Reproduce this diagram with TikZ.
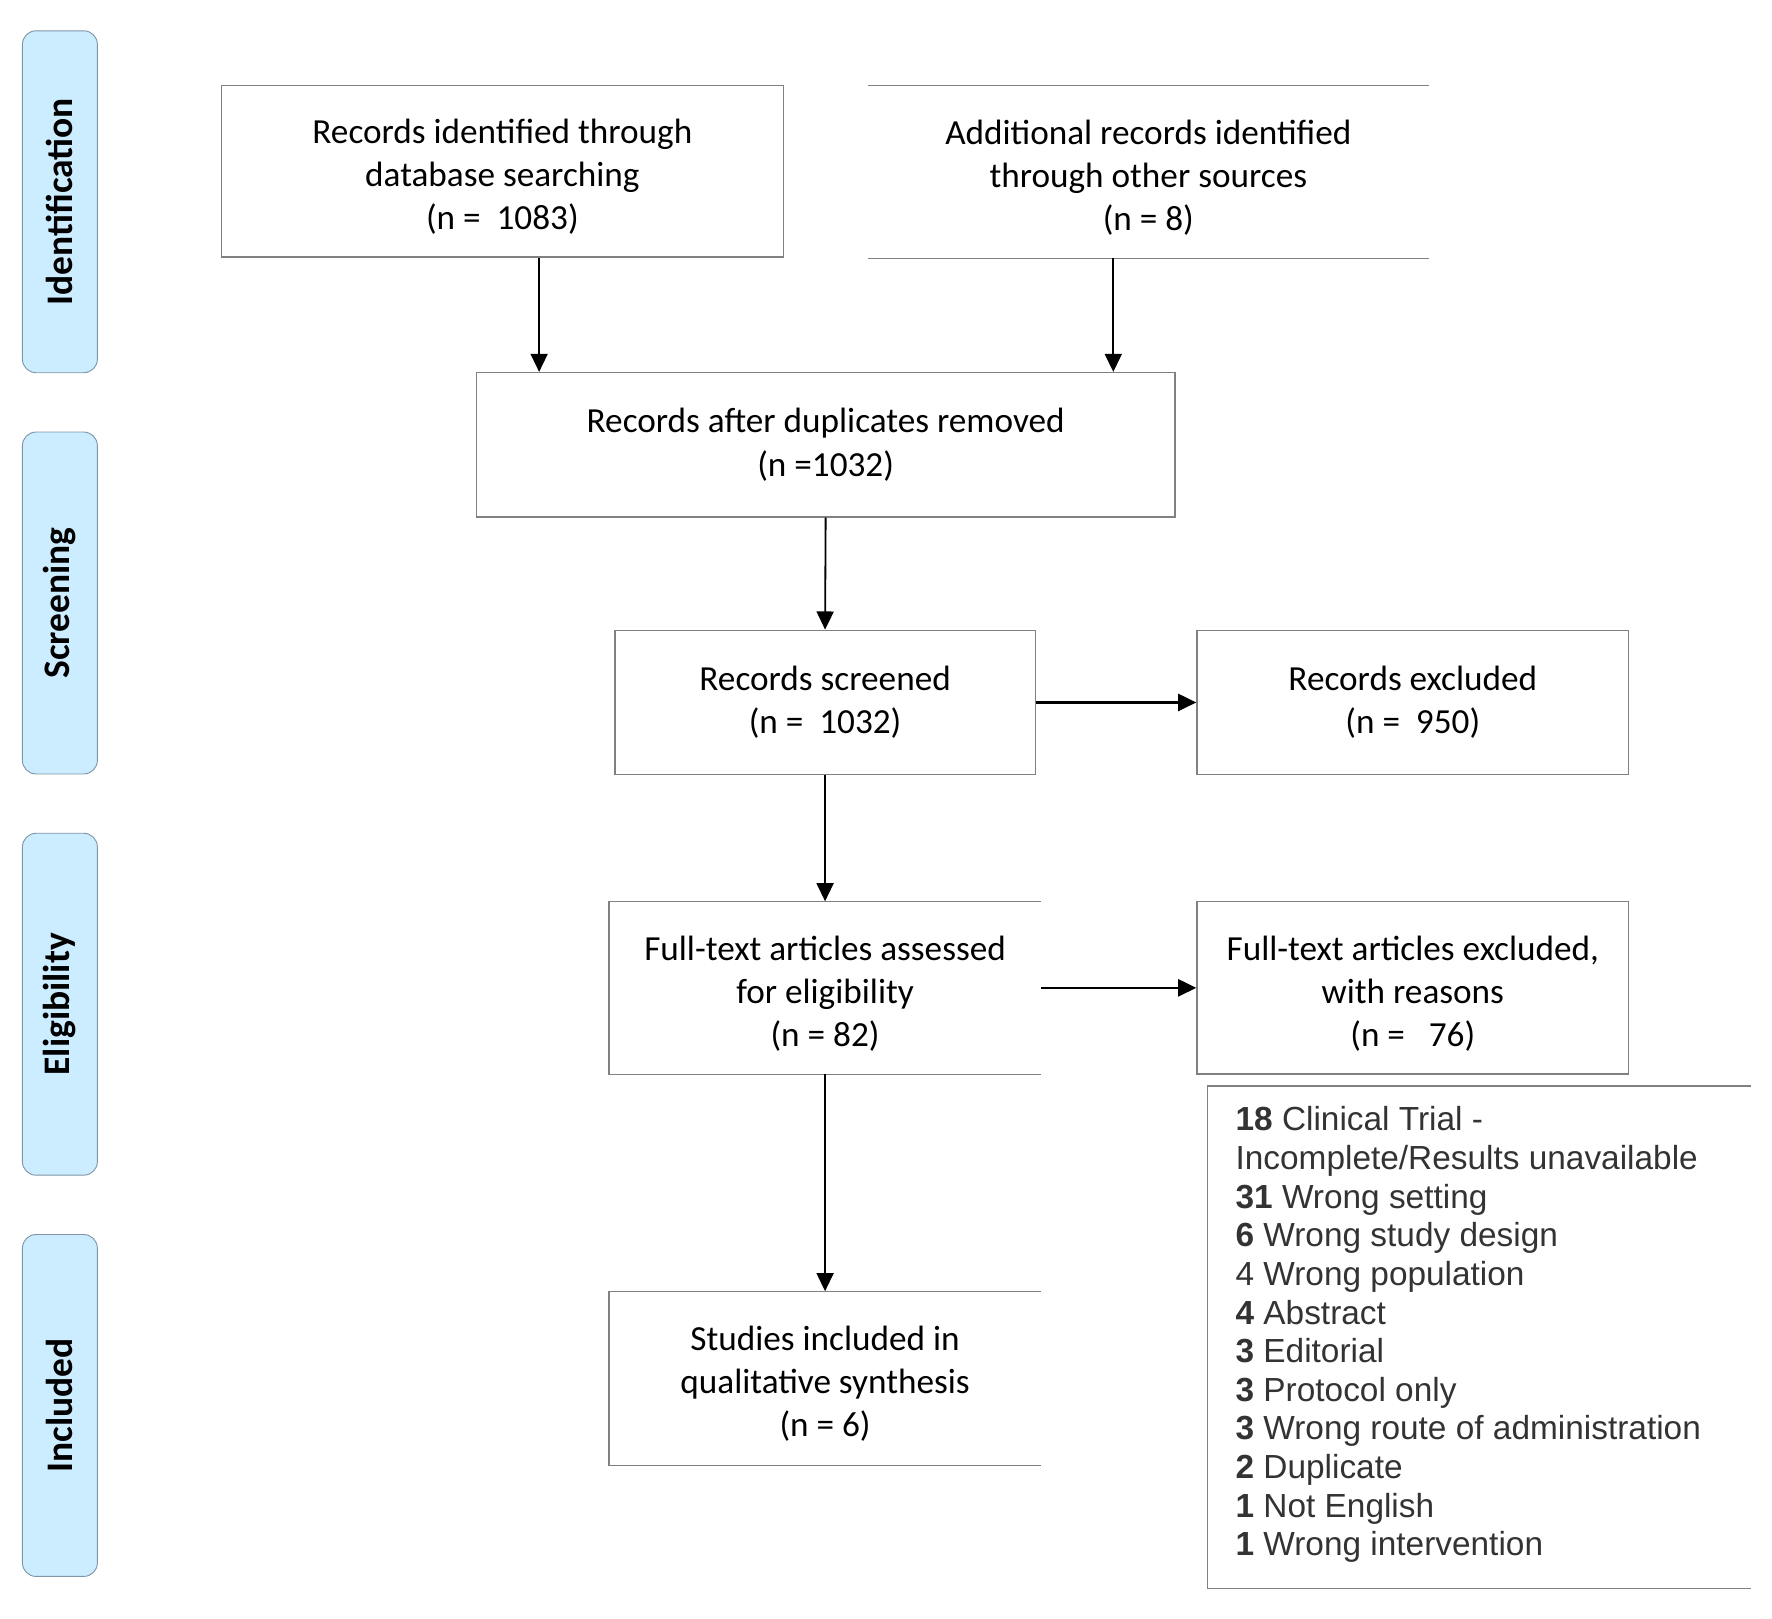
\documentclass[tikz,border=0pt]{standalone}
\usepackage{fontspec}
\setmainfont{Carlito}
\newfontfamily\arialf{Liberation Sans}
\usetikzlibrary{arrows.meta}
\definecolor{boxgray}{HTML}{808080}
\definecolor{pillfill}{HTML}{CCECFF}
\definecolor{pillline}{HTML}{7F95A8}
\definecolor{listtext}{HTML}{333333}
\begin{document}
\begin{tikzpicture}[x=0.995pt,y=-0.995pt,
  fullbox/.style={draw=boxgray, line width=1.2pt, align=center, inner sep=0pt,
    font=\fontsize{31}{38}\selectfont},
  openbox/.style={draw=none, align=center, inner sep=0pt,
    font=\fontsize{31}{38}\selectfont},
  boxtext/.style={align=center, inner sep=0pt, font=\fontsize{31}{38}\selectfont},
  edgeline/.style={draw=boxgray, line width=1.2pt},
  pill/.style={draw=pillline, line width=0.8pt, fill=pillfill, rounded corners=12pt,
    rotate=90, minimum width=301pt, minimum height=66pt, inner sep=0pt,
    font=\bfseries\fontsize{33}{38}\selectfont},
  arr/.style={-{Triangle[length=16pt,width=15pt]}, line width=1.6pt, black},
  harr/.style={-{Triangle[length=16pt,width=15pt]}, line width=2.2pt, black}
]
\useasboundingbox (0,0) rectangle (1567.8,1432.4);

% stage pills
\node[pill] (p1) at (53,178.5) {Identification};
\node[pill] (p2) at (53,533.5) {Screening};
\node[pill] (p3) at (53,888.5) {Eligibility};
\node[pill] (p4) at (53,1243.5) {Included};

% boxes
\node[fullbox, minimum width=495pt, minimum height=151pt] (b1) at (444.5,151.5) {};
\node[boxtext] (b1t) at ([yshift=-5pt]b1.center)
  {Records identified through\\database searching\\(n =\ \ 1083)};
\node[openbox, minimum width=494pt, minimum height=152pt] (b2) at (1016,152) {};
\node[boxtext] (b2t) at ([yshift=-5pt]b2.center)
  {Additional records identified\\through other sources\\(n = 8)};
\draw[edgeline] (b2.north west) -- (b2.north east);
\draw[edgeline] (b2.south west) -- (b2.south east);

\node[fullbox, minimum width=615pt, minimum height=127pt] (b3) at (730.5,393.5)
  {Records after duplicates removed\\(n =1032)};

\node[fullbox, minimum width=370pt, minimum height=127pt] (b4) at (730,621.5)
  {Records screened\\(n =\ \ 1032)};
\node[fullbox, minimum width=380pt, minimum height=127pt] (b5) at (1250,621.5)
  {Records excluded\\(n =\ \ 950)};

\node[openbox, minimum width=380pt, minimum height=152pt] (b6) at (730,874) {};
\node[boxtext] (b6t) at ([yshift=-5pt]b6.center)
  {Full-text articles assessed\\for eligibility\\(n = 82)};
\draw[edgeline] (b6.north east) -- (b6.north west) -- (b6.south west) -- (b6.south east);

\node[fullbox, minimum width=380pt, minimum height=152pt] (b7) at (1250,874) {};
\node[boxtext] (b7t) at ([yshift=-5pt]b7.center)
  {Full-text articles excluded,\\with reasons\\(n =\ \ \ 76)};

\node[openbox, minimum width=478pt, minimum height=442pt] (b8) at (1309,1183) {};
\draw[edgeline] (b8.north east) -- (b8.north west) -- (b8.south west) -- (b8.south east);
\node[anchor=north west, inner sep=0pt, align=left, text=listtext,
  font=\arialf\fontsize{29.4}{34}\selectfont] (reasons) at (1093,979)
  {\textbf{18} Clinical Trial -\\
   Incomplete/Results unavailable\\
   \textbf{31} Wrong setting\\
   \textbf{6} Wrong study design\\
   4 Wrong population\\
   \textbf{4} Abstract\\
   \textbf{3} Editorial\\
   \textbf{3} Protocol only\\
   \textbf{3} Wrong route of administration\\
   \textbf{2} Duplicate\\
   \textbf{1} Not English\\
   \textbf{1} Wrong intervention};

\node[openbox, minimum width=380pt, minimum height=153pt] (b9) at (730,1219.5) {};
\node[boxtext] (b9t) at ([yshift=-5pt]b9.center)
  {Studies included in\\qualitative synthesis\\(n = 6)};
\draw[edgeline] (b9.north east) -- (b9.north west) -- (b9.south west) -- (b9.south east);

% connectors
\coordinate (xa) at (477,0);
\coordinate (xb) at (985,0);
\draw[arr] (xa |- b1.south) -- (xa |- b3.north);
\draw[arr] (xb |- b2.south) -- (xb |- b3.north);
\draw[arr] (b3.south) -- (b4.north);
\draw[harr] (b4.east) -- (b5.west);
\draw[arr] (b4.south) -- (b6.north);
\draw[harr] (b6.east) -- (b7.west);
\draw[arr] (b6.south) -- (b9.north);
\end{tikzpicture}
\end{document}
